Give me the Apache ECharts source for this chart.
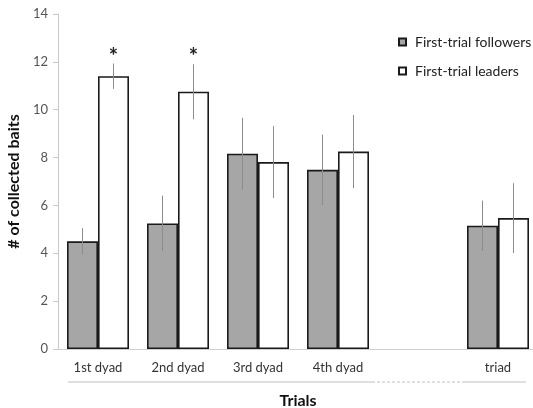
<!DOCTYPE html>
<html>
<head>
<meta charset="utf-8">
<script src="https://cdn.jsdelivr.net/npm/echarts@6/dist/echarts.min.js"></script>
<style>
  html, body { margin: 0; padding: 0; background: #fff; }
  #chart { width: 533px; height: 408px; }
</style>
</head>
<body>
<div id="chart"></div>
<script>
// categories (the blank slot keeps the gap before the triad)
var trials = ["1st dyad", "2nd dyad", "3rd dyad", "4th dyad", "", "triad"];
var followers = [4.5, 5.25, 8.16, 7.49, "-", 5.15];
var followersErr = [0.55, 1.16, 1.5, 1.47, 0, 1.05];
var leaders = [11.4, 10.75, 7.81, 8.25, "-", 5.47];
var leadersErr = [0.53, 1.15, 1.5, 1.53, 0, 1.46];
var stars = [1, 1, 0, 0, 0, 0];

var FONT = "Lato";
var BAR_W = 31;

function errorData(means, errs) {
	var out = [];
	for (var i = 0; i < means.length; i++) {
		if (means[i] === "-") continue;
		out.push([i, means[i] - errs[i], means[i] + errs[i], stars[i]]);
	}
	return out;
}

function errorSeries(means, errs, side, withStars) {
	return {
		type: "custom",
		silent: true,
		z: 5,
		data: errorData(means, errs),
		renderItem: function (params, api) {
			var idx = api.value(0);
			var lo = api.coord([idx, api.value(1)]);
			var hi = api.coord([idx, api.value(2)]);
			var x = lo[0] + side * BAR_W / 2;
			var children = [{
				type: "line",
				shape: { x1: x, y1: lo[1], x2: x, y2: hi[1] },
				style: { stroke: "#8c8c8c", lineWidth: 1 }
			}];
			if (withStars && api.value(3)) {
				children.push({
					type: "text",
					style: {
						text: "*", x: x, y: hi[1] + 4,
						align: "center", verticalAlign: "bottom",
						font: "bold 22px " + FONT, fill: "#222"
					}
				});
			}
			return { type: "group", children: children };
		}
	};
}

var chart = echarts.init(document.getElementById("chart"));
chart.setOption({
	animation: false,
	textStyle: { fontFamily: FONT },
	grid: { left: 58, right: -5, top: 14, bottom: 59, outerBoundsMode: "none" },
	legend: {
		orient: "vertical",
		left: 393,
		top: 30,
		itemWidth: 7,
		itemHeight: 7,
		itemGap: 15,
		icon: "rect",
		itemStyle: { borderWidth: 2 },
		textStyle: { fontFamily: FONT, fontSize: 14, color: "#222", padding: [0, 0, 0, 4] },
		data: ["First-trial followers", "First-trial leaders"]
	},
	xAxis: {
		type: "category",
		data: trials,
		name: "Trials",
		nameLocation: "middle",
		nameGap: 44,
		nameTextStyle: { fontFamily: FONT, fontSize: 16, fontWeight: "bold", color: "#111" },
		axisLine: { lineStyle: { color: "#d0d0d0", width: 1 } },
		axisTick: { show: false },
		axisLabel: { fontFamily: FONT, fontSize: 13, color: "#333", margin: 12 }
	},
	yAxis: {
		type: "value",
		min: 0,
		max: 14,
		interval: 2,
		name: "# of collected baits",
		nameLocation: "middle",
		nameGap: 27,
		nameTextStyle: { fontFamily: FONT, fontSize: 16, fontWeight: "bold", color: "#111" },
		axisLine: { show: true, lineStyle: { color: "#c8c8c8" } },
		axisTick: { show: true, length: 5, lineStyle: { color: "#c8c8c8" } },
		splitLine: { show: false },
		axisLabel: { fontFamily: FONT, fontSize: 13, color: "#555", margin: 10 }
	},
	series: [
		{
			name: "First-trial followers",
			type: "bar",
			barWidth: BAR_W,
			barGap: "0%",
			data: followers,
			itemStyle: { color: "#a6a6a6", borderColor: "#1a1a1a", borderWidth: 1.6 }
		},
		{
			name: "First-trial leaders",
			type: "bar",
			barWidth: BAR_W,
			barGap: "0%",
			data: leaders,
			itemStyle: { color: "#ffffff", borderColor: "#1a1a1a", borderWidth: 1.6 }
		},
		errorSeries(followers, followersErr, -1, false),
		errorSeries(leaders, leadersErr, 1, true)
	],
	graphic: [
		{ type: "line", shape: { x1: 68, y1: 382, x2: 372, y2: 382 }, style: { stroke: "#c0c0c0", lineWidth: 1 } },
		{ type: "line", shape: { x1: 372, y1: 382, x2: 463, y2: 382 }, style: { stroke: "#c0c0c0", lineWidth: 1, lineDash: [3, 2] } },
		{ type: "line", shape: { x1: 463, y1: 382, x2: 526, y2: 382 }, style: { stroke: "#c0c0c0", lineWidth: 1 } }
	]
});
</script>
</body>
</html>
